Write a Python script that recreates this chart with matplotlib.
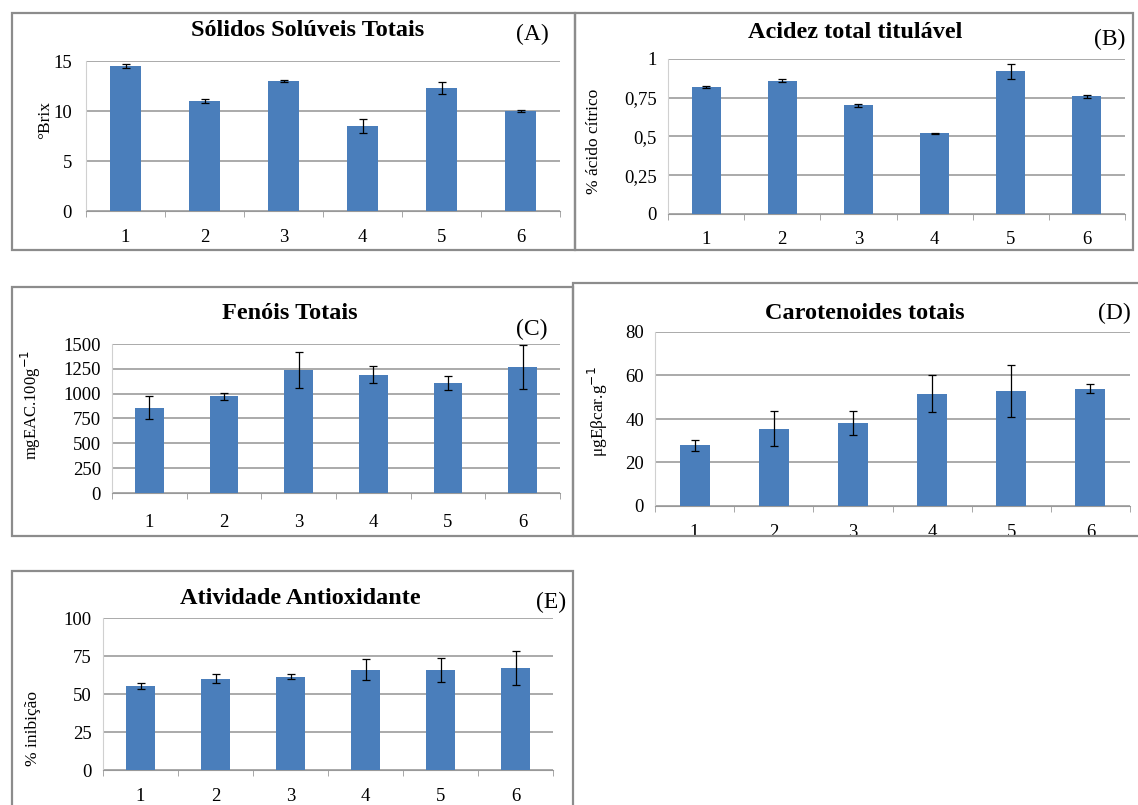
import matplotlib
matplotlib.use("Agg")
import matplotlib.pyplot as plt
from matplotlib.patches import Rectangle
from matplotlib.ticker import FixedLocator, FuncFormatter

plt.rcParams["font.family"] = ["Liberation Serif", "DejaVu Serif"]

W, H = 1138, 805

# Data
amostras = ["1", "2", "3", "4", "5", "6"]

sst = [14.5, 11.0, 13.0, 8.5, 12.3, 10.0]
sst_err = [0.2, 0.2, 0.1, 0.7, 0.6, 0.1]

acidez = [0.82, 0.86, 0.70, 0.52, 0.92, 0.76]
acidez_err = [0.005, 0.01, 0.01, 0.005, 0.05, 0.01]

fenois = [860, 975, 1240, 1190, 1110, 1270]
fenois_err = [120, 35, 180, 85, 70, 220]

carot = [28, 35.5, 38, 51.5, 53, 54]
carot_err = [2.5, 8, 5.5, 8.5, 12, 2]

antiox = [55, 60, 61.5, 66, 66, 67]
antiox_err = [2, 3, 1.5, 7, 8, 11]

BLUE = "#4a7ebb"
GRID = "#aaaaaa"
TITLE_FS = 17.5
TICK_FS = 13.5
LAB_FS = 17
YLAB_FS = 12.5

fig = plt.figure(figsize=(W / 100, H / 100), dpi=100)
fig.patch.set_facecolor("white")


def px_axes(x0, y0, x1, y1):
    return fig.add_axes([x0 / W, 1 - y1 / H, (x1 - x0) / W, (y1 - y0) / H])


def border(x0, y0, x1, y1):
    fig.patches.append(Rectangle((x0 / W, 1 - y1 / H), (x1 - x0) / W, (y1 - y0) / H,
                                 transform=fig.transFigure, fill=False,
                                 edgecolor="#8c8c8c", linewidth=1.6))


def ftext(x, y, s, **kw):
    fig.text(x / W, 1 - y / H, s, **kw)


def panel(box, values, errs, ymax, yticks, fmt=None, ypad=8, xpad=12):
    ax = px_axes(*box)
    x = range(1, len(values) + 1)
    ax.bar(x, values, width=0.38, color=BLUE, zorder=3)
    ax.errorbar(x, values, yerr=errs, fmt="none", ecolor="black",
                elinewidth=0.9, capsize=3, capthick=0.9, zorder=4)
    ax.set_xlim(0.5, len(values) + 0.5)
    ax.set_ylim(0, ymax)
    ax.set_yticks(yticks)
    if fmt is not None:
        ax.yaxis.set_major_formatter(FuncFormatter(fmt))
    ax.set_xticks(list(x))
    ax.set_xticklabels(amostras)
    ax.xaxis.set_minor_locator(FixedLocator([i + 0.5 for i in range(len(values) + 1)]))
    ax.tick_params(axis="x", which="major", length=0, pad=xpad, labelsize=TICK_FS)
    ax.tick_params(axis="x", which="minor", length=4, color="#999999")
    ax.tick_params(axis="y", length=0, pad=ypad, labelsize=TICK_FS)
    ax.grid(axis="y", color=GRID, linewidth=1.4, zorder=0)
    for s in ("top", "right"):
        ax.spines[s].set_visible(False)
    ax.spines["bottom"].set_color("#999999")
    ax.spines["left"].set_color("#d0d0d0")
    ax.set_facecolor("none")
    return ax


def virgula(v, pos):
    s = f"{v:g}"
    return s.replace(".", ",")


# (A)
border(12, 13, 575, 250)
panel((86, 61, 560, 211), sst, sst_err, 15, [0, 5, 10, 15], ypad=10, xpad=13)
ftext(308, 31, "Sólidos Solúveis Totais", ha="center", va="center",
      fontsize=TITLE_FS, fontweight="bold")
ftext(532, 34, "(A)", ha="center", va="center", fontsize=LAB_FS)
ftext(45, 120, "°Brix", ha="center", va="center", rotation=90, fontsize=YLAB_FS)

# (B)
border(575, 13, 1133, 250)
panel((668, 59, 1125, 214), acidez, acidez_err, 1, [0, 0.25, 0.5, 0.75, 1], virgula,
      xpad=12)
ftext(855, 33, "Acidez total titulável", ha="center", va="center",
      fontsize=TITLE_FS, fontweight="bold")
ftext(1110, 39, "(B)", ha="center", va="center", fontsize=LAB_FS)
ftext(594, 141, "% ácido cítrico", ha="center", va="center", rotation=90, fontsize=YLAB_FS)

# (C)
border(12, 287, 573, 536)
panel((112, 344, 560, 493), fenois, fenois_err, 1500,
      [0, 250, 500, 750, 1000, 1250, 1500], xpad=15)
ftext(290, 313, "Fenóis Totais", ha="center", va="center",
      fontsize=TITLE_FS, fontweight="bold")
ftext(532, 329, "(C)", ha="center", va="center", fontsize=LAB_FS)
ftext(31, 405, "mgEAC.100g$^{-1}$", ha="center", va="center", rotation=90, fontsize=12)

# (D)
border(573, 283, 1145, 536)
panel((655, 332, 1130, 506), carot, carot_err, 80, [0, 20, 40, 60, 80], xpad=13)
ftext(865, 313, "Carotenoides totais", ha="center", va="center",
      fontsize=TITLE_FS, fontweight="bold")
ftext(1114, 313, "(D)", ha="center", va="center", fontsize=LAB_FS)
ftext(598, 412, "μgEβcar.g$^{-1}$", ha="center", va="center", rotation=90, fontsize=YLAB_FS)

# (E)
border(12, 571, 573, 820)
panel((103, 618, 553, 770), antiox, antiox_err, 100, [0, 25, 50, 75, 100], xpad=13)
ftext(300, 598, "Atividade Antioxidante", ha="center", va="center",
      fontsize=TITLE_FS, fontweight="bold")
ftext(551, 602, "(E)", ha="center", va="center", fontsize=LAB_FS)
ftext(33, 728, "% inibição", ha="center", va="center", rotation=90, fontsize=YLAB_FS)

fig.savefig("out.png", dpi=100)
